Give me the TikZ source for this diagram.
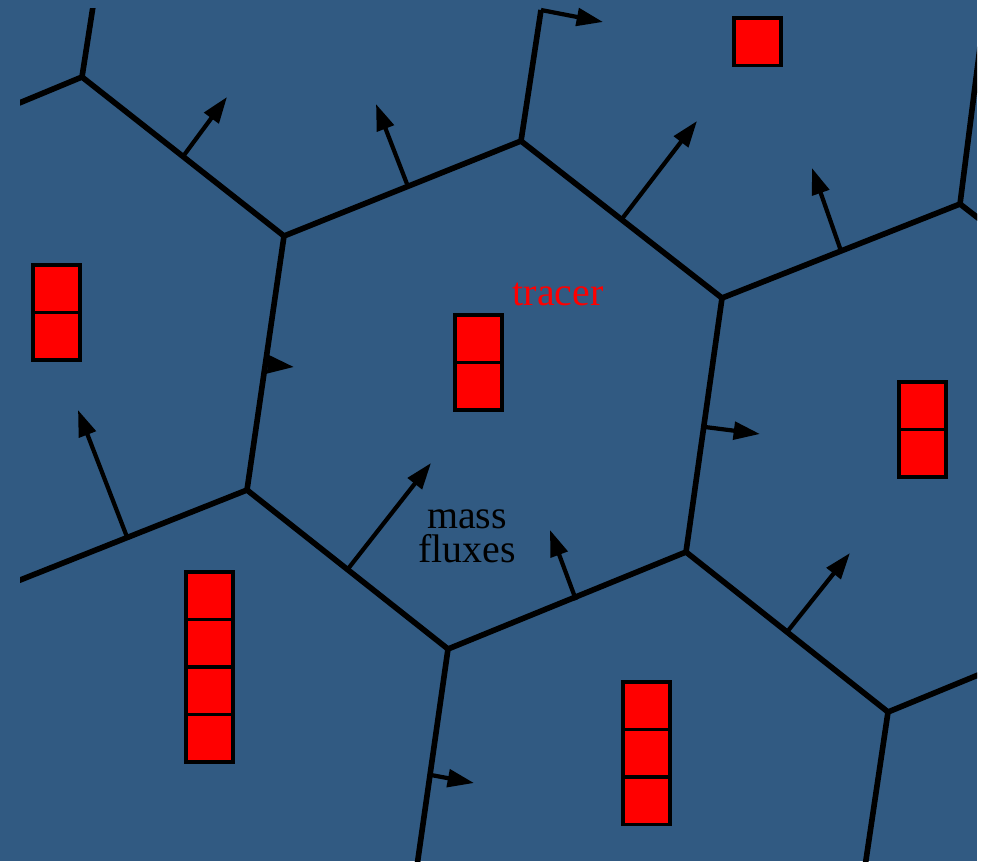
\documentclass[tikz,border=0pt]{standalone}
\usepackage{fontspec}
\setmainfont{Liberation Serif}
\usetikzlibrary{arrows.meta,calc}
\definecolor{cellblue}{RGB}{49,90,130}

\begin{document}
\begin{tikzpicture}[
        x=0.02cm, y=-0.02cm, % 以像素为单位
        face/.style={line width=3.2pt},
        flux/.style={line width=2.4pt, -{Triangle[length=15pt,width=10pt]}},
        tracerbox/.style={fill=red, draw=black, line width=1.9pt},
    ]
    % 背景
    \useasboundingbox (0,0) rectangle (982,861);
    \fill[cellblue] (0,0) rectangle (977,861);

    % 网格顶点
    \coordinate (A) at (284,236);
    \coordinate (B) at (521,141);
    \coordinate (C) at (722,298);
    \coordinate (D) at (686,552);
    \coordinate (E) at (448,649);
    \coordinate (F) at (247,490);
    \coordinate (P) at (82,77);
    \coordinate (Q) at (960,204);
    \coordinate (R) at (888,712);
    \coordinate (T) at (541,10);

    % 网格边（裁剪到区域内）
    \begin{scope}
        \clip (20,9) rectangle (977,861);
        \draw[face] (A) -- (B) -- (C) -- (D) -- (E) -- (F) -- cycle;
        \draw[face] (0,111) -- (P) -- (A);
        \draw[face] (P) -- (94,0);
        \draw[face] (B) -- (T);
        \draw[face] (C) -- (Q) -- (986,0);
        \draw[face] (Q) -- (1000,235);
        \draw[face] (D) -- (R) -- (1000,666);
        \draw[face] (R) -- (863,880);
        \draw[face] (E) -- (415,880);
        \draw[face] (F) -- (0,588);
    \end{scope}

    % 质量通量
    \draw[flux] ($(P)!0.5!(A)$) -- (227,97);
    \draw[flux] (407,184) -- (376,104);
    \draw[flux] ($(B)!0.5!(C)$) -- (697,121);
    \draw[flux] ($(C)!0.5!(Q)$) -- (812,168);
    \draw[flux] ($(F)!0.5!(E)$) -- (431,463);
    \draw[flux] (576,600) -- (550,530);
    \draw[flux] ($(D)!0.5!(R)$) -- (850,553);
    \draw[flux] (127,537) -- (78,410);
    \draw[flux] (265,364) -- (294,367);
    \draw[flux] (705,427) -- (760,434);
    \draw[flux] (431,775) -- (474,783);
    \draw[flux] (T) -- (603,22);

    % 示踪物格子
    \foreach \x/\y/\n in {734/18/1, 33/265/2, 455/315/2, 899/382/2, 186/572/4, 623/682/3}
        \foreach \k in {1,...,\n}
            \draw[tracerbox] (\x,{\y+(\k-1)*47.5}) rectangle ++(47,47.5);

    % 文字
    \node[text=red, font=\fontsize{22.7}{18.7}\selectfont, inner sep=0] (tracer) at (558,294) {tracer};
    \node[align=center, font=\fontsize{22.7}{19.5}\selectfont, inner sep=0] (fluxes) at (467,536) {mass\\fluxes};
\end{tikzpicture}
\end{document}
